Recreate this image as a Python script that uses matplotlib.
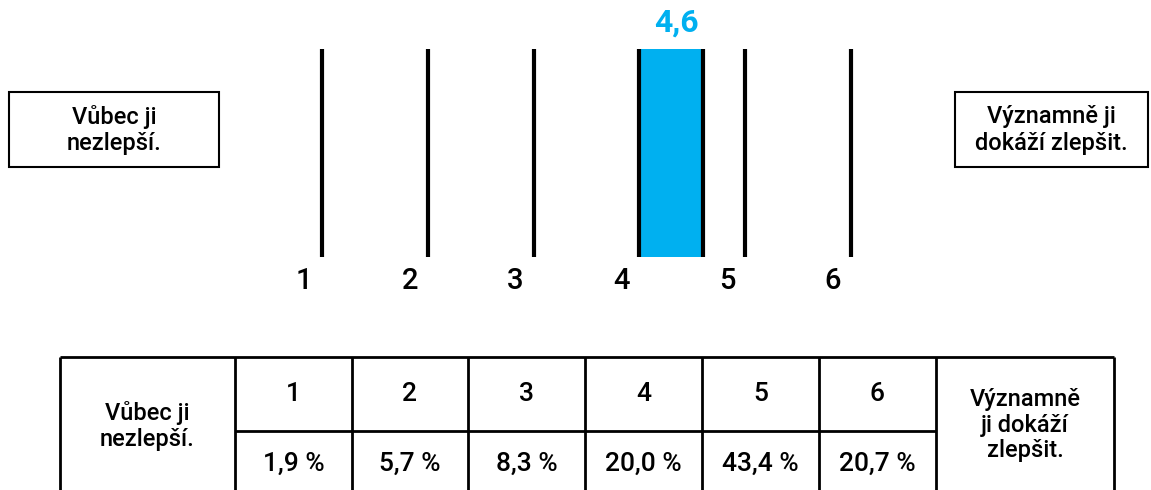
import matplotlib.pyplot as plt
from matplotlib.patches import Rectangle

plt.rcParams['font.family'] = ['Roboto', 'DejaVu Sans']

# data
scores = [1, 2, 3, 4, 5, 6]
mean_score = 4.6
mean_label = "4,6"
shares = ["1,9 %", "5,7 %", "8,3 %", "20,0 %", "43,4 %", "20,7 %"]
low_label = "Vůbec ji\nnezlepší."
high_label = "Významně ji\ndokáží zlepšit."
high_label_table = "Významně\nji dokáží\nzlepšit."

blue = '#00B0F0'
W, H = 1151, 490

fig = plt.figure(figsize=(W / 100, H / 100), dpi=100)

# background axes in pixel units for boxes and table
bg = fig.add_axes([0, 0, 1, 1])
bg.set_xlim(0, W)
bg.set_ylim(H, 0)
bg.axis('off')

# scale axes: x=1 at px 322, x=6 at px 851, lines from y 49 to 257
sc = fig.add_axes([322 / W, (H - 257) / H, (851 - 322) / W, (257 - 49) / H])
sc.set_xlim(1, 6)
sc.set_ylim(0, 1)
sc.axis('off')

sc.bar(scores[3], 1, width=mean_score - scores[3], align='edge', color=blue,
       linewidth=0, zorder=1)
sc.vlines(scores, 0, 1, color='black', linewidth=3, zorder=2, clip_on=False)
sc.vlines([mean_score], 0, 1, color='black', linewidth=3, zorder=2, clip_on=False)
sc.text((scores[3] + mean_score) / 2 + 0.05, 1.055, mean_label, color=blue,
        fontsize=23, fontweight='bold', ha='center', va='bottom')
for s in scores:
    sc.text(s - 0.17, -0.115, str(s), fontsize=21, ha='center', va='center',
            fontweight='medium')

# side boxes
bg.add_patch(Rectangle((9, 92), 210, 75, fill=False, linewidth=1.5, edgecolor='black'))
bg.add_patch(Rectangle((955, 92), 193, 75, fill=False, linewidth=1.5, edgecolor='black'))
bg.text(114, 130, low_label, fontsize=17, ha='center', va='center',
        linespacing=1.2, fontweight='medium')
bg.text(1051, 130, high_label, fontsize=17, ha='center', va='center',
        linespacing=1.2, fontweight='medium')

# table
col_x = [60, 235, 352, 468, 585, 702, 819, 936, 1114]
top, mid, bot = 357, 431, 505
lw = 2
bg.hlines([top], col_x[0], col_x[-1], color='black', linewidth=lw)
bg.hlines([mid], col_x[1], col_x[-2], color='black', linewidth=lw)
bg.vlines(col_x, top, bot, color='black', linewidth=lw)

for i, s in enumerate(scores):
    cx = (col_x[i + 1] + col_x[i + 2]) / 2
    bg.text(cx, (top + mid) / 2, str(s), fontsize=19, ha='center', va='center',
            fontweight='medium')
    bg.text(cx, (mid + bot) / 2 - 4, shares[i], fontsize=19, ha='center',
            va='center', fontweight='medium')

bg.text((col_x[0] + col_x[1]) / 2, 426, low_label, fontsize=17, ha='center',
        va='center', linespacing=1.2, fontweight='medium')
bg.text((col_x[-2] + col_x[-1]) / 2, 425, high_label_table, fontsize=17,
        ha='center', va='center', linespacing=1.15, fontweight='medium')

fig.savefig('out.png', dpi=100)
